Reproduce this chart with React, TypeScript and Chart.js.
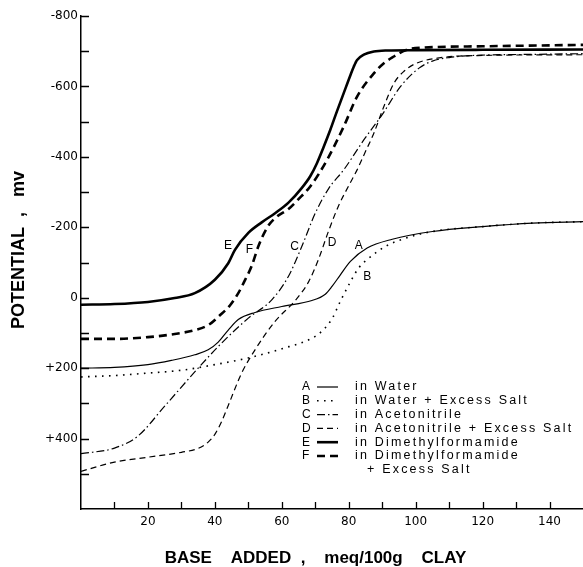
import React, { useEffect, useRef } from "react";
import { Chart, registerables } from "chart.js";

Chart.register(...registerables);

// ---- data ----
const seriesLetters = ["A", "B", "C", "D", "E", "F"];
const legendLabels: (string | string[])[] = [
  "in Water",
  "in Water + Excess Salt",
  "in Acetonitrile",
  "in Acetonitrile + Excess Salt",
  "in Dimethylformamide",
  ["in Dimethylformamide", "+ Excess Salt"],
];

const xA = [0, 10, 20, 27, 34, 38, 41, 44, 47, 52, 60, 69, 73, 75, 77.5, 80.5, 85.5, 93, 105, 120, 135, 150];
const yA = [200, 198, 190, 178, 162, 148, 126, 92, 62, 42, 25, 8, -10, -32, -65, -103, -141, -166, -188, -202, -212, -216];

const xB = [0, 10, 20, 30, 40, 50, 60, 69, 72, 75, 77.5, 80.5, 83, 86, 91, 97, 105, 120, 135, 150];
const yB = [225, 221, 214, 206, 190, 171, 145, 115, 95, 60, 10, -45, -85, -112, -146, -169, -188, -202, -212, -216];

const xC = [0, 10, 17, 25, 35, 42, 50, 57, 62, 66, 70, 74, 78.5, 84.5, 90, 95.5, 101, 105, 110, 120, 135, 150];
const yC = [443, 427, 393, 308, 200, 129, 58, 6, -61, -146, -240, -310, -363, -448, -520, -600, -652, -672, -682, -689, -691, -693];

const xD = [0, 10, 20, 30, 35, 38, 40, 42, 44, 48, 52, 58, 64, 68, 71, 74, 77, 80, 82.5, 85, 87.5, 90.5, 93.5, 96.5, 100, 107, 120, 150];
const yD = [493, 467, 453, 439, 428, 410, 388, 352, 306, 214, 148, 67, 8, -45, -110, -190, -262, -318, -363, -415, -467, -543, -609, -643, -665, -681, -688, -690];

const xE = [0, 10, 20, 28, 34, 40, 44, 46, 50, 54, 58, 62, 66, 68.5, 70.5, 72.5, 74.5, 76.5, 78.5, 80.5, 81.5, 82.5, 84.5, 87.5, 91.5, 100, 120, 150];
const yE = [20, 18, 12, 1, -13, -51, -98, -136, -184, -214, -240, -270, -312, -345, -382, -428, -477, -530, -581, -632, -656, -675, -690, -699, -702, -703, -704, -705];

const xF = [0, 10, 20, 28, 34, 38, 41.5, 44.5, 47, 49, 51, 53, 55.8, 58.5, 62, 65, 68.5, 73.5, 78.5, 82.5, 87.5, 90.5, 93.5, 97, 102, 120, 150];
const yF = [117, 117, 112, 103, 92, 78, 50, 22, -13, -50, -90, -146, -202, -230, -252, -280, -316, -391, -486, -571, -637, -666, -685, -703, -710, -714, -718];

// curve label anchors (data coordinates)
const curveLabelX = [83, 85.5, 63.8, 75, 43.9, 50.3];
const curveLabelY = [-148, -60, -145, -157, -147.5, -136];

// tick labels
const yLabelValues = [-800, -600, -400, -200, 0, 200, 400];
const xLabelValues = [20, 40, 60, 80, 100, 120, 140];

const seriesX = [xA, xB, xC, xD, xE, xF];
const seriesY = [yA, yB, yC, yD, yE, yF];

// ---- styles ----
const seriesStyle = [
  { borderWidth: 1.2, borderDash: [] as number[] },
  { borderWidth: 1.6, borderDash: [1.6, 5.4] },
  { borderWidth: 1.2, borderDash: [8, 3, 1.5, 3] },
  { borderWidth: 1.2, borderDash: [6, 4] },
  { borderWidth: 2.6, borderDash: [] as number[] },
  { borderWidth: 2.6, borderDash: [8, 5] },
];

const FONT = '"Liberation Sans", Arial, sans-serif';

const innerTicks = {
  id: "innerTicks",
  afterDatasetsDraw(chart: any) {
    const { ctx, chartArea, scales } = chart;
    const xs = scales.x;
    const ys = scales.y;
    ctx.save();
    ctx.strokeStyle = "#000";
    ctx.lineWidth = 1.3;
    ctx.setLineDash([]);
    ctx.beginPath();
    xs.ticks.forEach((t: any) => {
      if (t.value <= xs.min || t.value >= xs.max) return;
      const px = Math.round(xs.getPixelForValue(t.value)) + 0.5;
      ctx.moveTo(px, chartArea.bottom);
      ctx.lineTo(px, chartArea.bottom - 7);
    });
    ys.ticks.forEach((t: any) => {
      if (t.value >= ys.max) return;
      const py = Math.round(ys.getPixelForValue(t.value)) + 0.5;
      ctx.moveTo(chartArea.left, py);
      ctx.lineTo(chartArea.left + 8, py);
    });
    ctx.stroke();
    ctx.restore();
  },
};

const annotations = {
  id: "annotations",
  afterDraw(chart: any) {
    const { ctx, chartArea, scales } = chart;
    ctx.save();
    ctx.fillStyle = "#000";
    ctx.strokeStyle = "#000";
    ctx.textBaseline = "middle";
    // curve letters
    ctx.font = `12px ${FONT}`;
    ctx.textAlign = "center";
    seriesLetters.forEach((l, i) => {
      ctx.fillText(l, scales.x.getPixelForValue(curveLabelX[i]), scales.y.getPixelForValue(curveLabelY[i]));
    });
    // legend
    const x0 = chartArea.left + 221;
    let y = chartArea.bottom - 122;
    const rowH = 13.8;
    chart.data.datasets.forEach((ds: any, i: number) => {
      ctx.textAlign = "left";
      ctx.font = `12px ${FONT}`;
      (ctx as any).letterSpacing = "0px";
      ctx.fillText(seriesLetters[i], x0, y);
      ctx.beginPath();
      ctx.setLineDash(ds.borderDash || []);
      ctx.lineWidth = ds.borderWidth;
      ctx.moveTo(x0 + 15, y);
      ctx.lineTo(x0 + 36, y);
      ctx.stroke();
      ctx.setLineDash([]);
      ctx.font = `12.5px ${FONT}`;
      (ctx as any).letterSpacing = "2.2px";
      const lbl = legendLabels[i];
      const lines = Array.isArray(lbl) ? lbl : [lbl];
      lines.forEach((t, j) => {
        ctx.fillText(t, x0 + 53 + (j > 0 ? 12 : 0), y + j * rowH);
      });
      y += rowH * lines.length;
    });
    (ctx as any).letterSpacing = "0px";
    ctx.restore();
  },
};

export default function App() {
  const ref = useRef<HTMLCanvasElement>(null);
  useEffect(() => {
    if (!ref.current) return;
    const datasets = seriesX.map((xs, i) => ({
      label: seriesLetters[i],
      data: xs.map((x, k) => ({ x, y: seriesY[i][k] })),
      borderColor: "#000",
      backgroundColor: "#000",
      borderWidth: seriesStyle[i].borderWidth,
      borderDash: seriesStyle[i].borderDash,
      borderCapStyle: "butt" as const,
      pointRadius: 0,
      fill: false,
      cubicInterpolationMode: "monotone" as const,
    }));
    const chart = new Chart(ref.current, {
      type: "line",
      data: { datasets },
      options: {
        animation: false,
        responsive: false,
        devicePixelRatio: 1,
        layout: { autoPadding: false, padding: { top: 16, left: 0, right: 0, bottom: 0 } },
        plugins: { legend: { display: false }, tooltip: { enabled: false } },
        scales: {
          x: {
            type: "linear",
            min: 0,
            max: 150,
            afterFit: (s: any) => {
              s.height = 58;
              s.paddingLeft = 0;
              s.paddingRight = 0;
            },
            grid: { display: true, drawOnChartArea: false, drawTicks: false },
            border: { display: true, color: "#000", width: 1.5 },
            ticks: {
              stepSize: 10,
              autoSkip: false,
              maxRotation: 0,
              padding: 6,
              color: "#000",
              font: { family: '"DejaVu Sans", sans-serif', size: 12 },
              callback: (v: any) => (xLabelValues.includes(Number(v)) ? String(v) : ""),
            },
            title: {
              display: true,
              text: "BASE    ADDED  ,    meq/100g    CLAY       ",
              color: "#000",
              font: { family: FONT, size: 17, weight: "bold", lineHeight: 1 },
              padding: { top: 0, bottom: 0 },
            },
          },
          y: {
            type: "linear",
            reverse: true,
            min: -800,
            max: 600,
            afterFit: (s: any) => {
              s.width = 81;
              s.paddingTop = 0;
              s.paddingBottom = 0;
            },
            grid: { display: true, drawOnChartArea: false, drawTicks: false },
            border: { display: true, color: "#000", width: 1.5 },
            ticks: {
              stepSize: 100,
              autoSkip: false,
              padding: 3,
              color: "#000",
              font: { family: '"DejaVu Sans", sans-serif', size: 12 },
              callback: (v: any) => {
                const n = Number(v);
                if (!yLabelValues.includes(n)) return "";
                return n > 0 ? "+" + n : String(n);
              },
            },
            title: {
              display: true,
              text: "     POTENTIAL  ,   mv",
              color: "#000",
              font: { family: FONT, size: 18, weight: "bold", lineHeight: 1.2 },
              padding: { top: 8, bottom: 0 },
            },
          },
        },
      },
      plugins: [innerTicks, annotations],
    });
    return () => chart.destroy();
  }, []);
  return (
    <div style={{ position: "fixed", left: 0, top: 0, width: 583, height: 567, background: "#fff" }}>
      <canvas ref={ref} width={583} height={567} style={{ display: "block" }} />
    </div>
  );
}
